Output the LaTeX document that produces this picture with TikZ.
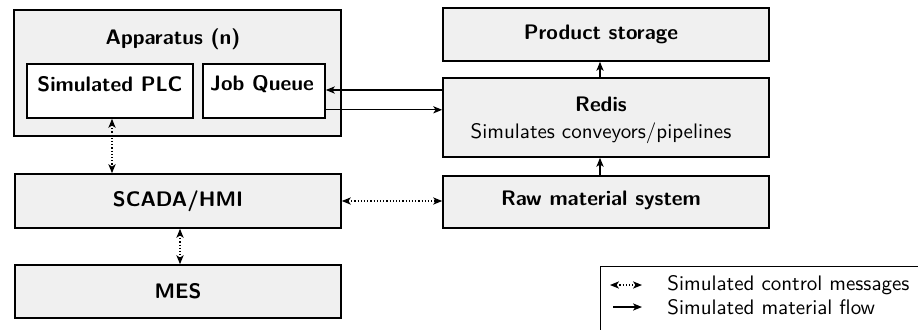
\documentclass[tikz,border=0pt]{standalone}
\usetikzlibrary{arrows.meta,calc}
\renewcommand{\familydefault}{\sfdefault}
\definecolor{boxgray}{HTML}{F0F0F0}
\newcommand{\figfont}{\fontsize{10.5}{12.6}\selectfont}
\begin{document}
\begin{tikzpicture}[x=0.5pt,y=-0.5pt,
  every node/.style={font=\figfont},
  box/.style={draw, line width=0.8pt, fill=boxgray, inner sep=0pt},
  inbox/.style={draw, line width=0.8pt, fill=white, inner sep=0pt},
  lbl/.style={font=\figfont\bfseries, inner sep=0pt},
  flow/.style={line width=0.6pt, -{Stealth[length=4.5pt,width=3.6pt,inset=1.2pt]}},
  ctrl/.style={line width=0.6pt, densely dotted, {Stealth[length=4.5pt,width=3.6pt,inset=1.2pt]}-{Stealth[length=4.5pt,width=3.6pt,inset=1.2pt]}}
]
\useasboundingbox (0,0) rectangle (918,329);
\clip (0,0) rectangle (918,329);

% Apparatus with its two inner parts
\node[box, minimum width=163.5pt, minimum height=63pt] (app) at (177.5,73) {};
\node[lbl] (appt) at (173,39) {Apparatus (n)};
\node[inbox, minimum width=83pt, minimum height=27pt] (plc) at (110,91) {};
\node[lbl] (plct) at (110,84) {Simulated PLC};
\node[inbox, minimum width=61pt, minimum height=27pt] (jq) at (264,91) {};
\node[lbl] (jqt) at (262,84) {Job Queue};

% Left column
\node[box, minimum width=163pt, minimum height=27pt] (scada) at (178,201) {};
\node[lbl] (scadat) at (178,201) {SCADA/HMI};
\node[box, minimum width=163pt, minimum height=26.5pt] (mes) at (178,291.5) {};
\node[lbl] (mest) at (178,291.5) {MES};

% Right column
\node[box, minimum width=163pt, minimum height=26.5pt] (prod) at (606,34.5) {};
\node[lbl] (prodt) at (601,34.5) {Product storage};
\node[box, minimum width=163pt, minimum height=39.5pt] (redis) at (606,117.5) {};
\node[lbl] (redist) at (601,104) {Redis};
\node[inner sep=0pt] (redisd) at (601,133) {Simulates conveyors/pipelines};
\node[box, minimum width=163pt, minimum height=26pt] (raw) at (606,202) {};
\node[lbl] (rawt) at (601,200) {Raw material system};

% Material flow
\coordinate (jqin) at ([yshift=0.5pt]jq.east);
\coordinate (jqout) at ([yshift=4.5pt]jq.south east);
\draw[flow] (redis.west |- jqin) -- (jqin);
\draw[flow] (jqout) -- (redis.west |- jqout);
\draw[flow] ([xshift=-3pt]redis.north) -- ([xshift=-3pt]prod.south);
\draw[flow] ([xshift=-3pt]raw.north) -- ([xshift=-3pt]redis.south);

% Control messages
\draw[ctrl] ([xshift=1pt]plc.south) -- ([xshift=1pt]plc.south |- scada.north);
\draw[ctrl] ([xshift=1pt]scada.south) -- ([xshift=1pt]mes.north);
\draw[ctrl] (scada.east) -- (scada.east -| raw.west);

% Legend
\node[draw, line width=0.6pt, fill=white, minimum width=170pt, minimum height=40pt, anchor=north west] (leg) at (600,266) {};
\coordinate (l1a) at (610,285);
\coordinate (l1b) at (642,285);
\coordinate (l2a) at (613,307);
\coordinate (l2b) at (642,307);
\draw[ctrl] (l1a) -- (l1b);
\draw[flow] (l2a) -- (l2b);
\node[anchor=west, inner sep=0pt] (leg1) at (667,285) {Simulated control messages};
\node[anchor=west, inner sep=0pt] (leg2) at (667,307) {Simulated material flow};
\end{tikzpicture}
\end{document}
